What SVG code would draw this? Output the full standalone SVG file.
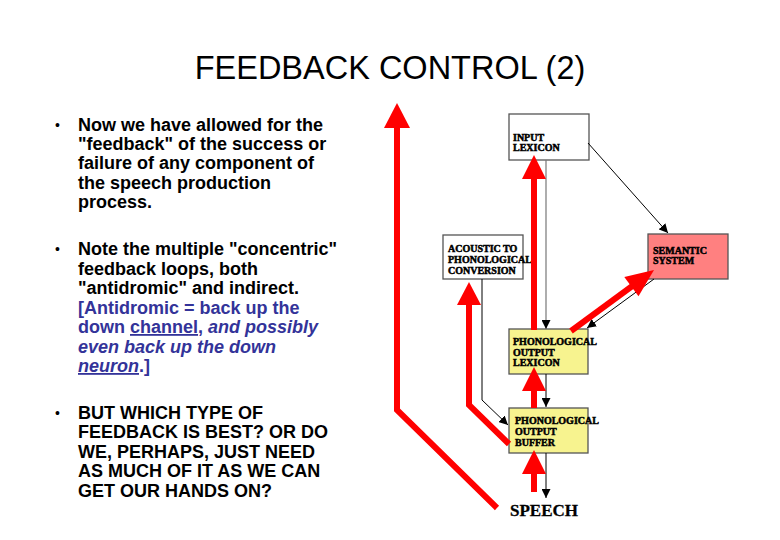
<svg xmlns="http://www.w3.org/2000/svg" width="780" height="540" viewBox="0 0 780 540">
<defs>
<style>
.t{font-family:"Liberation Sans",Arial,sans-serif;font-weight:bold;font-size:18px;fill:#000}
.bu{font-family:"Liberation Sans",Arial,sans-serif;font-size:14px;fill:#000}
.b{fill:#333399}
.i{font-style:italic}
.u{text-decoration:underline}
.lbl{font-family:"Liberation Serif","Times New Roman",serif;font-weight:bold;font-size:10px;fill:#000;stroke:#000;stroke-width:0.5}
.box{stroke:#555;stroke-width:1.3}
.red{fill:none;stroke:#ff0000;stroke-width:6;stroke-linejoin:miter}
.rh{fill:#ff0000}
.thin{fill:none;stroke:#000;stroke-width:1;marker-end:url(#ah)}
.gray{fill:none;stroke:#777;stroke-width:1.2;marker-end:url(#ah)}
</style>
<marker id="ah" viewBox="0 0 10 10" refX="10" refY="5" markerWidth="9" markerHeight="9" markerUnits="userSpaceOnUse" orient="auto">
<path d="M0,0 L10,5 L0,10 Z" fill="#000"/>
</marker>
</defs>
<rect width="780" height="540" fill="#fff"/>
<text x="390" y="79" font-family="Liberation Sans,Arial,sans-serif" font-size="32.5" text-anchor="middle">FEEDBACK CONTROL (2)</text>

<g id="bullet1">
<text class="bu" x="55" y="130">•</text>
<text class="t" x="78" y="131">Now we have allowed for the</text>
<text class="t" x="78" y="150">"feedback" of the success or</text>
<text class="t" x="78" y="169">failure of any component of</text>
<text class="t" x="78" y="189">the speech production</text>
<text class="t" x="78" y="208">process.</text>
</g>
<g id="bullet2">
<text class="bu" x="55" y="254">•</text>
<text class="t" x="78" y="255">Note the multiple "concentric"</text>
<text class="t" x="78" y="275">feedback loops, both</text>
<text class="t" x="78" y="294">"antidromic" and indirect.</text>
<text class="t b" x="78" y="314">[Antidromic = back up the</text>
<text class="t b" x="78" y="333">down <tspan class="u">channel</tspan>, <tspan class="i">and possibly</tspan></text>
<text class="t b i" x="78" y="353">even back up the down</text>
<text class="t b" x="78" y="372"><tspan class="i u">neuron</tspan>.]</text>
</g>
<g id="bullet3">
<text class="bu" x="55" y="418">•</text>
<text class="t" x="78" y="419">BUT WHICH TYPE OF</text>
<text class="t" x="78" y="438">FEEDBACK IS BEST? OR DO</text>
<text class="t" x="78" y="458">WE, PERHAPS, JUST NEED</text>
<text class="t" x="78" y="477">AS MUCH OF IT AS WE CAN</text>
<text class="t" x="78" y="497">GET OUR HANDS ON?</text>
</g>

<g id="input-lexicon">
<rect class="box" x="509" y="114" width="80" height="46" fill="#fff"/>
<text class="lbl" x="513" y="141">INPUT</text>
<text class="lbl" x="513" y="151">LEXICON</text>
</g>
<g id="acoustic">
<rect class="box" x="443" y="235" width="80" height="44" fill="#fff"/>
<text class="lbl" x="448" y="252">ACOUSTIC TO</text>
<text class="lbl" x="448" y="263">PHONOLOGICAL</text>
<text class="lbl" x="448" y="274">CONVERSION</text>
</g>
<g id="semantic">
<rect class="box" x="648" y="234" width="80" height="45" fill="#ff8080" stroke="#333"/>
<text class="lbl" x="653" y="254">SEMANTIC</text>
<text class="lbl" x="653" y="264">SYSTEM</text>
</g>
<g id="output-lexicon">
<rect class="box" x="509" y="329" width="79" height="45" fill="#f7f38f" stroke="#333"/>
<text class="lbl" x="513" y="345">PHONOLOGICAL</text>
<text class="lbl" x="513" y="356">OUTPUT</text>
<text class="lbl" x="513" y="366">LEXICON</text>
</g>
<g id="output-buffer">
<rect class="box" x="509" y="408" width="79" height="45" fill="#f7f38f" stroke="#333"/>
<text class="lbl" x="515" y="424">PHONOLOGICAL</text>
<text class="lbl" x="515" y="435">OUTPUT</text>
<text class="lbl" x="515" y="446">BUFFER</text>
</g>
<g id="speech">
<text x="510" y="516" font-family="Liberation Serif,Times New Roman,serif" font-weight="bold" font-size="17" stroke="#000" stroke-width="0.3">SPEECH</text>
</g>

<g id="connectors">
<path class="gray" d="M546,160 V329"/>
<path class="thin" d="M588,143 L668,233"/>
<path class="thin" d="M654,279 L587,328"/>
<path class="thin" d="M482,279 V400 L508,425"/>
<path class="thin" d="M546,374 V407"/>
<path class="thin" d="M546,453 V498"/>

<path class="red" d="M497,508 L397,410 V126"/>
<polygon class="rh" points="397,103 410,128 384,128"/>
<path class="red" d="M509,444 L469,405 V303"/>
<polygon class="rh" points="469,282 481,305 457,305"/>
<path class="red" d="M534,330 V177"/>
<polygon class="rh" points="534,155 546,179 522,179"/>
<path class="red" d="M534,408 V389"/>
<polygon class="rh" points="534,367 546,391 522,391"/>
<path class="red" d="M534,492 V472"/>
<polygon class="rh" points="534,450 546,474 522,474"/>
<path class="red" d="M571,331 L633,285.5"/>
<polygon class="rh" points="654,270 638.5,296.3 624.3,276.9"/>
</g>
</svg>
